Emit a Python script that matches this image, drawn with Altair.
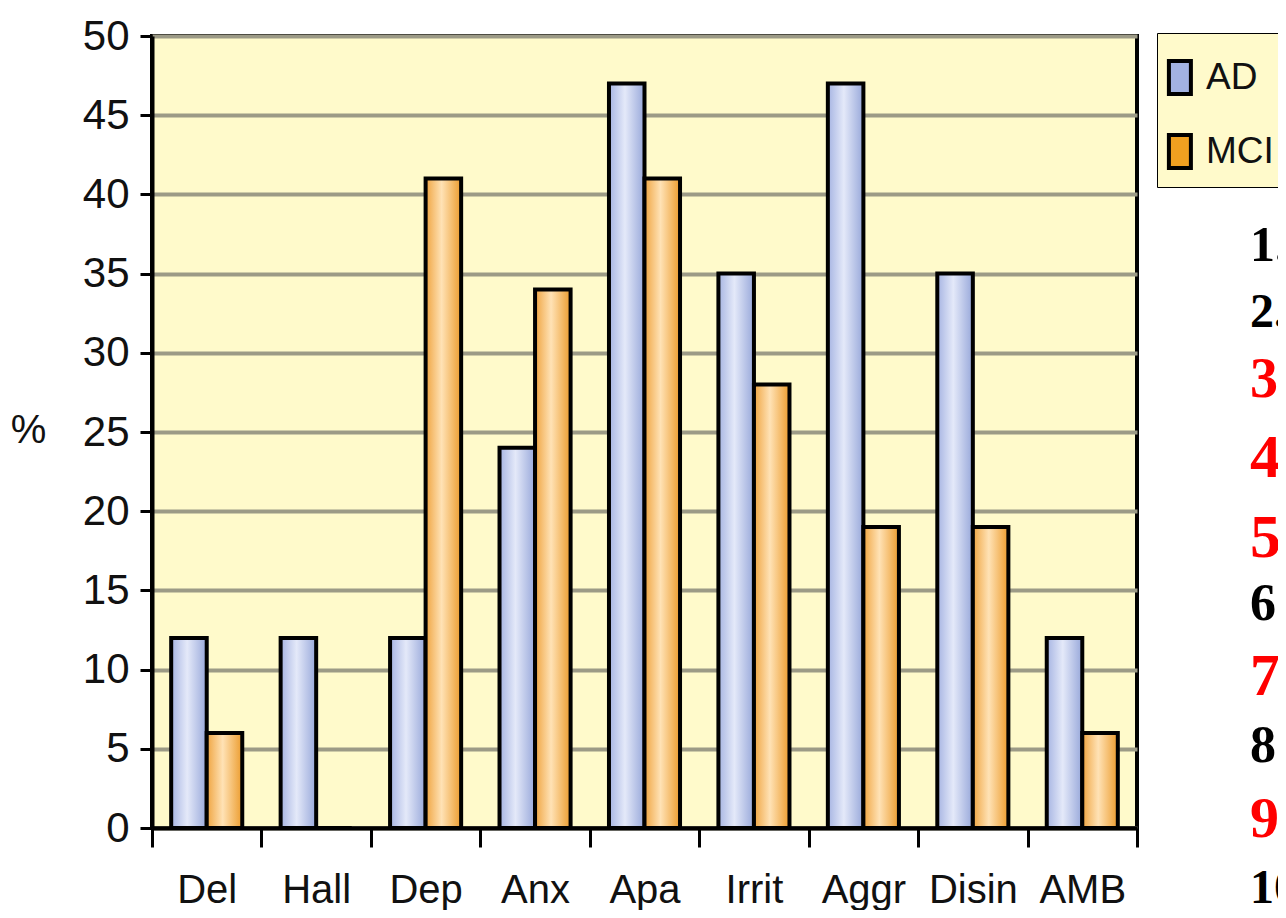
import altair as alt
import pandas as pd

categories = ["Del", "Hall", "Dep", "Anx", "Apa", "Irrit", "Aggr", "Disin", "AMB"]
ad_values = [12, 12, 12, 24, 47, 35, 47, 35, 12]
mci_values = [6, 0, 41, 34, 41, 28, 19, 19, 6]
series = ["AD", "MCI"]
side_labels = ["1.", "2.", "3.", "4.", "5.", "6.", "7.", "8.", "9.", "10"]

rows = []
for c, a, m in zip(categories, ad_values, mci_values):
    rows.append({"cat": c, "series": "AD", "value": a})
    rows.append({"cat": c, "series": "MCI", "value": m})
df = pd.DataFrame(rows)

SANS = "Liberation Sans Narrow, Arial Narrow, Liberation Sans, Arial, sans-serif"
W, H = 985, 792

ad_grad = alt.Gradient(
    gradient="linear", x1=0, x2=1, y1=0, y2=0,
    stops=[alt.GradientStop(color="#A6B4E2", offset=0),
           alt.GradientStop(color="#E4E9F9", offset=0.45),
           alt.GradientStop(color="#98A8DA", offset=1)])
mci_grad = alt.Gradient(
    gradient="linear", x1=0, x2=1, y1=0, y2=0,
    stops=[alt.GradientStop(color="#EFA440", offset=0),
           alt.GradientStop(color="#FFE2B5", offset=0.45),
           alt.GradientStop(color="#EC9C2E", offset=1)])

x_enc = alt.X("cat:N", sort=categories, scale=alt.Scale(paddingInner=0, paddingOuter=0),
              axis=alt.Axis(title=None, labelAngle=0, tickBand="extent", labelFont=SANS,
                            labelFontSize=40, labelColor="#111", labelBaseline="alphabetic",
                            tickSize=19, tickWidth=3, tickColor="black", labelPadding=55,
                            domainColor="black", domainWidth=4, grid=False))
y_enc = alt.Y("value:Q", scale=alt.Scale(domain=[0, 50], nice=False),
              axis=alt.Axis(values=list(range(0, 51, 5)), title="%", titleAngle=0,
                            titleFont=SANS, titleFontSize=40, titleFontWeight="normal",
                            titleAlign="center", titleBaseline="middle", titleX=-124, titleY=394,
                            titleColor="#111",
                            labelFont=SANS, labelFontSize=42, labelColor="#111",
                            labelPadding=11, tickSize=12, tickWidth=3, tickColor="black",
                            domainColor="black", domainWidth=4,
                            grid=True, gridColor="#9C9A86", gridWidth=4))
xo_enc = alt.XOffset("series:N", sort=series, scale=alt.Scale(paddingInner=0, paddingOuter=0.54))

base = alt.Chart(df)

bars_ad = base.transform_filter(alt.datum.series == "AD").mark_bar(
    fill=ad_grad, stroke="black", strokeWidth=4, strokeJoin="miter").encode(
    x=x_enc, y=y_enc, xOffset=xo_enc)
bars_mci = base.transform_filter(alt.datum.series == "MCI").mark_bar(
    fill=mci_grad, stroke="black", strokeWidth=4, strokeJoin="miter").encode(
    x=x_enc, y=y_enc, xOffset=xo_enc)

legend_layer = base.mark_point(opacity=0, filled=True).encode(
    x=x_enc, y=y_enc, xOffset=xo_enc,
    color=alt.Color("series:N", sort=series,
                    scale=alt.Scale(domain=series, range=["#A2B2E2", "#F0A020"]),
                    legend=alt.Legend(title=" ", titleFontSize=4, titlePadding=11,
                                      orient="none", legendX=1005, legendY=-3,
                                      symbolType="M-1.6,-1.5L0.4,-1.5L0.4,1.5L-1.6,1.5Z",
                                      symbolSize=484, symbolStrokeColor="black",
                                      symbolStrokeWidth=4, symbolOpacity=1,
                                      labelFont=SANS, labelFontSize=37, labelColor="#111",
                                      labelOffset=1, labelLimit=400,
                                      rowPadding=25, padding=11,
                                      fillColor="#FFFACB", strokeColor="black")))

side_y = [225, 291, 361, 441, 521, 584, 659, 726, 801, 867]
side_color = ["black", "black", "red", "red", "red", "black", "red", "black", "red", "black"]
side_size = [50, 48, 56, 62, 62, 52, 60, 52, 58, 48]

text_layers = []
for lab, yy, col, sz in zip(side_labels, side_y, side_color, side_size):
    text_layers.append(
        alt.Chart(pd.DataFrame({"t": [lab]})).mark_text(
            font="Liberation Serif", fontWeight="bold", fontSize=sz, color=col,
            align="left", baseline="alphabetic").encode(
            text="t:N", x=alt.value(1098), y=alt.value(yy)))

chart = alt.layer(bars_ad, bars_mci, legend_layer, *text_layers).properties(
    width=W, height=H,
    autosize=alt.AutoSizeParams(type="none"),
    padding={"left": 144, "top": 28, "right": 141, "bottom": 82},
    background="white",
).configure_view(fill="#FFFACB", stroke="black", strokeWidth=4)

chart.save("out.html", embed_options={"renderer": "svg", "actions": False})
